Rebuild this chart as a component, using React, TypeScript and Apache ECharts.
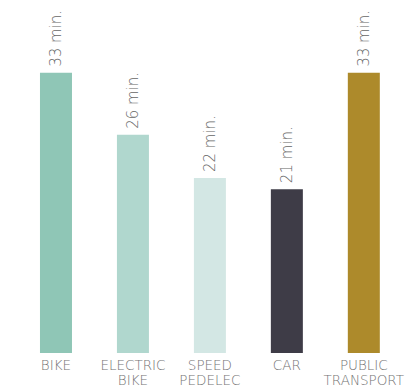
import React, { useEffect, useRef } from "react";
import * as echarts from "echarts";

const categories = ["BIKE", "ELECTRIC\nBIKE", "SPEED\nPEDELEC", "CAR", "PUBLIC\nTRANSPORT"];
const values = [33, 25.7, 20.6, 19.3, 33];
const valueLabels = ["33 min.", "26 min.", "22 min.", "21 min.", "33 min."];
const colors = ["#8fc6b6", "#b0d7ce", "#d3e7e4", "#3e3c47", "#ad8a2b"];

export default function App() {
  const ref = useRef<HTMLDivElement>(null);
  useEffect(() => {
    if (!ref.current) return;
    const chart = echarts.init(ref.current, null, { renderer: "svg" });
    chart.setOption({
      animation: false,
      grid: { left: 17.5, right: 4.5, top: 13.4, bottom: 33, containLabel: false },
      xAxis: {
        type: "category",
        data: categories,
        axisLine: { show: false },
        axisTick: { show: false },
        axisLabel: {
          margin: 4,
          color: "#737373",
          fontFamily: "DejaVu Sans",
          fontWeight: 300,
          fontSize: 13.5,
          lineHeight: 15,
          interval: 0,
        },
      },
      yAxis: {
        type: "value",
        min: 0,
        max: 40,
        show: false,
        splitLine: { show: false },
      },
      series: [
        {
          type: "bar",
          barWidth: 32,
          data: values.map((v, i) => ({
            value: v,
            itemStyle: { color: colors[i] },
            label: { formatter: valueLabels[i] },
          })),
          label: {
            show: true,
            position: "top",
            rotate: 90,
            align: "left",
            verticalAlign: "middle",
            distance: 6,
            color: "#666666",
            fontFamily: "DejaVu Sans",
            fontWeight: 300,
            fontSize: 15,
          },
        },
      ],
    });
    return () => chart.dispose();
  }, []);
  return (
    <div
      ref={ref}
      style={{ position: "absolute", left: 0, top: 0, width: 407, height: 387 }}
    />
  );
}
